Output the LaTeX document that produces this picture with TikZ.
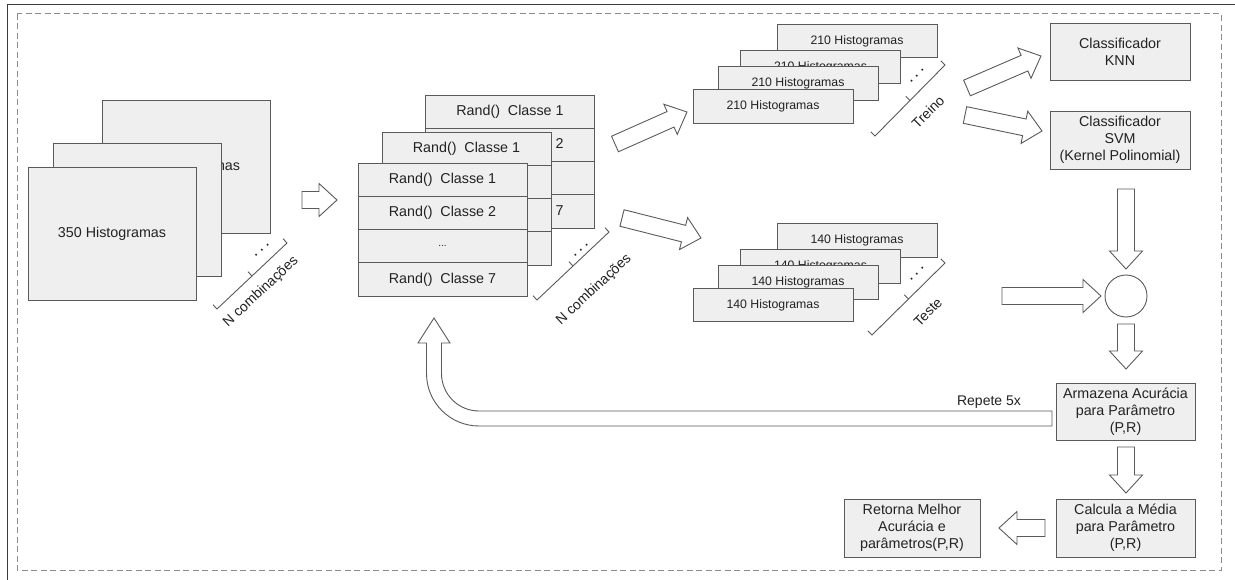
\documentclass[tikz,border=0pt]{standalone}
\usepackage{fontspec}
\setmainfont{Liberation Sans}
\usetikzlibrary{calc}
\definecolor{boxfill}{HTML}{EFEFEF}
\definecolor{boxline}{HTML}{5A5A5A}
\definecolor{txt}{HTML}{222222}
\definecolor{dashc}{HTML}{8C8C8C}
\definecolor{framec}{HTML}{3C3C3C}
\tikzset{
  box/.style={draw=boxline, fill=boxfill, line width=0.9pt, inner sep=0pt, align=center,
    text=txt, font=\fontsize{14.3}{17}\selectfont},
  hbox/.style={box, minimum width=160pt, minimum height=33.5pt, font=\fontsize{12.3}{14}\selectfont},
  rbox/.style={box, minimum width=169pt, minimum height=33.25pt},
  lbl/.style={text=txt, font=\fontsize{14}{17}\selectfont, inner sep=0pt},
  dotlbl/.style={text=txt, font=\fontsize{17}{17}\selectfont, inner sep=0pt},
  barrowline/.style={draw=boxline, fill=white, line width=0.9pt, line join=miter},
  brk/.style={draw=boxline, line width=0.9pt},
  pics/barrow/.style={code={\path[barrowline] (0pt,-8.5pt) -- ({#1-18},-8.5pt) -- ({#1-18},-16.5pt) -- (#1,0pt) -- ({#1-18},16.5pt) -- ({#1-18},8.5pt) -- (0pt,8.5pt) -- cycle;}}
}
\newcommand\blockarrow[2]{\path let \p1=($(#2)-(#1)$), \n1={atan2(\y1,\x1)}, \n2={veclen(\x1,\y1)} in pic[rotate=\n1] at (#1) {barrow=\n2};}
\newcommand\bracketline[2]{%
  \coordinate (#1M) at ($(#1A)!0.5!(#1B)$);
  \draw[brk] ($(#1A)!6pt!90:(#1B)$) -- (#1A) -- (#1B) -- ($(#1B)!6pt!-90:(#1A)$);
  \draw[brk] (#1M) -- ($(#1M)!6pt!90:(#1B)$);}
\begin{document}
\begin{tikzpicture}[x=1pt,y=-1pt]
\useasboundingbox (0,0) rectangle (1235,580);
\fill[white] (0,0) rectangle (1235,580);
% frames
\draw[framec, line width=1.4pt] (7.5,580) -- (7.5,4.5) -- (1235,4.5);
\draw[dashc, line width=1pt, dash pattern=on 6pt off 3.5pt] (17,14) rectangle (1221,570);

% left stack
\node[box, minimum width=168pt, minimum height=133pt] (L3) at (186,166.5) {350 Histogramas};
\node[box, minimum width=168pt, minimum height=133pt] (L2) at (137,209.5) {};
\node[box, minimum width=168pt, minimum height=133pt] (L1) at (112,233.5) {350 Histogramas};

% middle stack (back)
\node[rbox] (M3a) at (510,111.6) {Rand()~~Classe 1};
\node[rbox] (M3b) at (510,144.9) {Rand()~~Classe 2};
\node[rbox] (M3c) at (510,178.1) {};
\node[rbox] (M3d) at (510,211.4) {Rand()~~Classe 7};
% middle
\node[rbox] (M2a) at (466.5,148.6) {Rand()~~Classe 1};
\node[rbox] (M2b) at (466.5,181.9) {};
\node[rbox] (M2c) at (466.5,215.1) {};
\node[rbox] (M2d) at (466.5,248.4) {};
% front
\node[rbox] (M1a) at (442.5,179.6) {Rand()~~Classe 1};
\node[rbox] (M1b) at (442.5,212.9) {Rand()~~Classe 2};
\node[rbox] (M1c) at (442.5,246.1) {\fontsize{10}{12}\selectfont ...};
\node[rbox] (M1d) at (442.5,279.4) {Rand()~~Classe 7};

% training histograms
\node[hbox] (T4) at (857,41) {210 Histogramas};
\node[hbox] (T3) at (820.5,67) {210 Histogramas};
\node[hbox] (T2) at (798,83.5) {210 Histogramas};
\node[hbox] (T1) at (773,106.5) {210 Histogramas};
% test histograms
\node[hbox] (S4) at (857,240.5) {140 Histogramas};
\node[hbox] (S3) at (820.5,266.5) {140 Histogramas};
\node[hbox] (S2) at (798,282.5) {140 Histogramas};
\node[hbox] (S1) at (773,305) {140 Histogramas};

% brackets
\coordinate (bA) at (217,309); \coordinate (bB) at (287,243);
\bracketline{b}{}
\coordinate (cA) at (537,300); \coordinate (cB) at (609,232);
\bracketline{c}{}
\coordinate (dA) at (875,136); \coordinate (dB) at (945,65);
\bracketline{d}{}
\coordinate (eA) at (872,335); \coordinate (eB) at (945,263);
\bracketline{e}{}
\node[lbl, rotate=43] (nb) at (261,292) {N combinações};
\node[lbl, rotate=43] (nc) at (594,290) {N combinações};
\node[lbl, rotate=45] (nd) at (928,112) {Treino};
\node[lbl, rotate=45] (ne) at (928,312) {Teste};
\node[dotlbl, rotate=43] (db) at (262,250) {.\hspace{3pt}.\hspace{3pt}.};
\node[dotlbl, rotate=43] (dc) at (581,250) {.\hspace{3pt}.\hspace{3pt}.};
\node[dotlbl, rotate=45] (dd) at (917,76) {.\hspace{3pt}.\hspace{3pt}.};
\node[dotlbl, rotate=45] (de) at (917,274) {.\hspace{3pt}.\hspace{3pt}.};

% classifiers and result boxes
\node[box, minimum width=140pt, minimum height=57pt] (knn) at (1120,51.5) {Classificador\\KNN};
\node[box, minimum width=140pt, minimum height=58pt] (svm) at (1120,140) {Classificador\\SVM\\(Kernel Polinomial)};
\node[draw=boxline, line width=0.9pt, fill=white, circle, minimum size=42pt, inner sep=0pt] (circ) at (1126,296) {};
\node[box, minimum width=139pt, minimum height=57pt] (arm) at (1125.5,411.5) {Armazena Acurácia\\para Parâmetro\\(P,R)};
\node[box, minimum width=139pt, minimum height=58pt] (calc) at (1125.5,528) {Calcula a Média\\para Parâmetro\\(P,R)};
\node[box, minimum width=136pt, minimum height=58pt] (ret) at (912,528) {Retorna Melhor\\Acurácia e\\parâmetros(P,R)};

% block arrows
\coordinate (a1s) at (302,200); \coordinate (a1t) at (337,200);
\coordinate (a2s) at (615,144); \coordinate (a2t) at (687,112);
\coordinate (a3s) at (622,218); \coordinate (a3t) at (701,238);
\coordinate (a4s) at (967,88);  \coordinate (a4t) at (1041,56);
\coordinate (a5s) at (965,115); \coordinate (a5t) at (1042,131);
\coordinate (a6s) at (1126,189); \coordinate (a6t) at (1126,269);
\coordinate (a7s) at (1002,296); \coordinate (a7t) at (1101,296);
\coordinate (a8s) at (1126,324); \coordinate (a8t) at (1126,369);
\coordinate (a9s) at (1126,447); \coordinate (a9t) at (1126,493);
\coordinate (a10s) at (1045,528); \coordinate (a10t) at (999,528);
\blockarrow{a1s}{a1t}
\blockarrow{a2s}{a2t}
\blockarrow{a3s}{a3t}
\blockarrow{a4s}{a4t}
\blockarrow{a5s}{a5t}
\blockarrow{a6s}{a6t}
\blockarrow{a7s}{a7t}
\blockarrow{a8s}{a8t}
\blockarrow{a9s}{a9t}
\blockarrow{a10s}{a10t}

% return loop arrow
\draw[barrowline] (1052,426) -- (479,426) arc[start angle=270, end angle=180, radius=52.5pt]
  -- (426.5,343) -- (418,343) -- (434,318) -- (450,343) -- (441.5,343) -- (441.5,373.5)
  arc[start angle=180, end angle=270, radius=37.5pt] -- (1052,411) -- cycle;
\node[lbl] (rep) at (989,402) {Repete 5x};
\end{tikzpicture}
\end{document}
